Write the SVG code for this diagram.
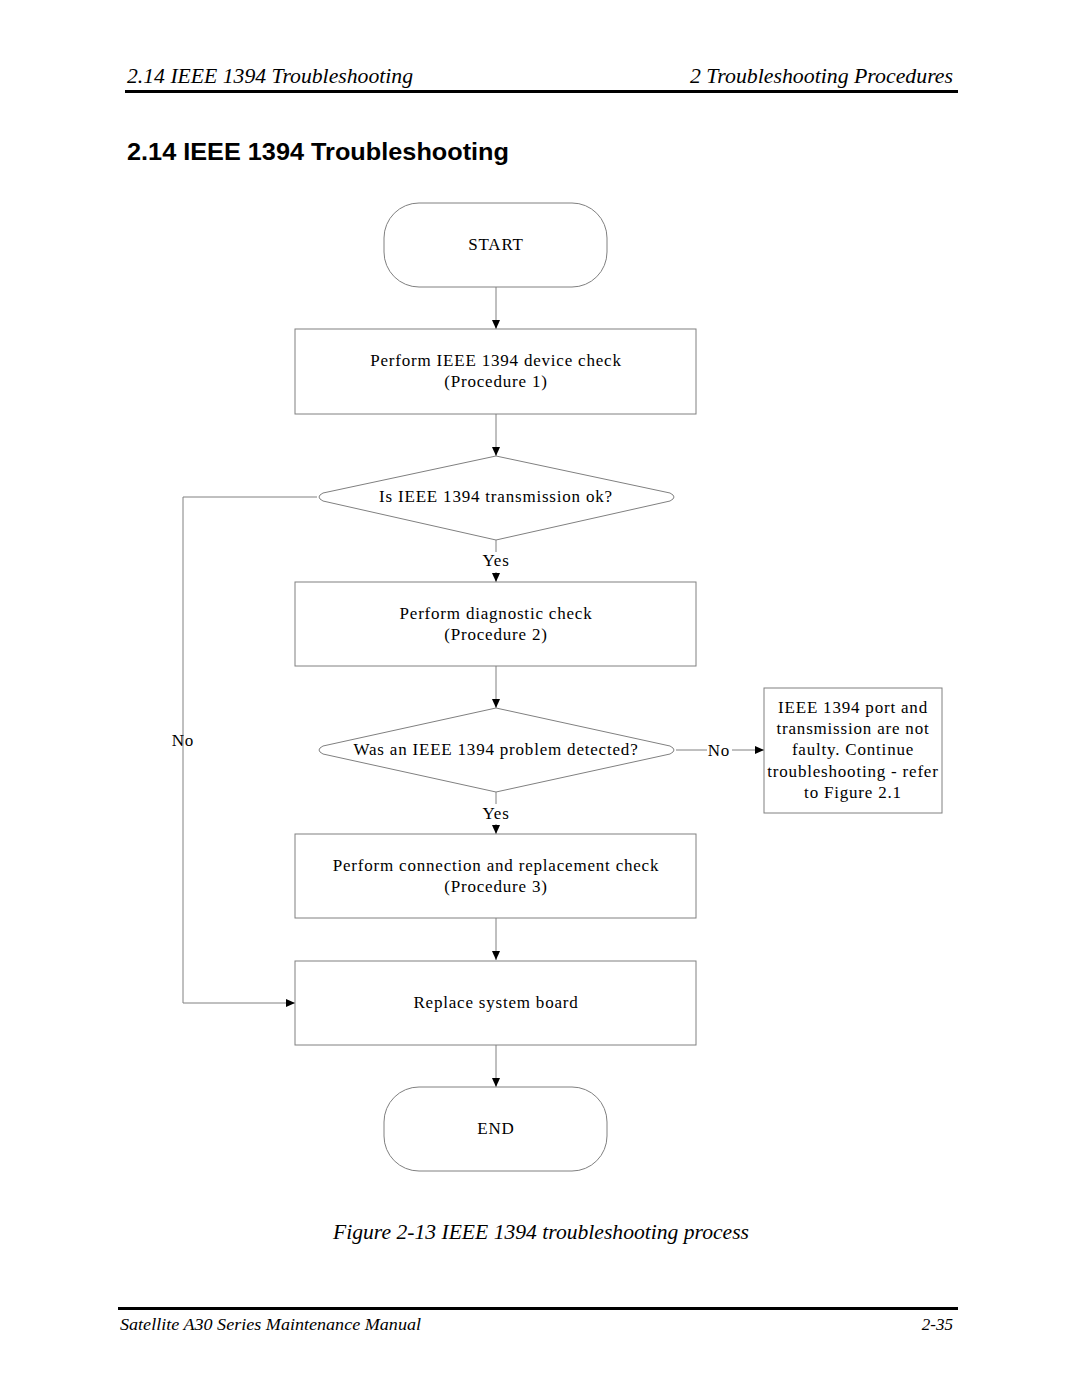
<svg xmlns="http://www.w3.org/2000/svg" width="1080" height="1397" viewBox="0 0 1080 1397">
<style>
.bg{fill:#fff}
.node{fill:#fff;stroke:#808080;stroke-width:1}
.t{font-family:"Liberation Serif",serif;font-size:17px;letter-spacing:0.8px;fill:#000;text-anchor:middle}
.edge{fill:none;stroke:#808080;stroke-width:1}
.hdr{font-family:"Liberation Serif",serif;font-style:italic;font-size:21px;fill:#000}
.title{font-family:"Liberation Sans",Arial,sans-serif;font-weight:bold;font-size:24px;fill:#000}
.cap{font-family:"Liberation Serif",serif;font-style:italic;font-size:21px;fill:#000}
.ftr{font-family:"Liberation Serif",serif;font-style:italic;font-size:17px;fill:#000}
</style>
<defs>
<marker id="arr" markerWidth="10" markerHeight="10" refX="9" refY="4" orient="auto" markerUnits="userSpaceOnUse">
<path d="M0,0 L9,4 L0,8 Z" fill="#000"/>
</marker>
</defs>
<rect class="bg" width="1080" height="1397"/>
<g id="header">
<text class="hdr" x="127" y="83" textLength="286" lengthAdjust="spacingAndGlyphs">2.14  IEEE 1394 Troubleshooting</text>
<text class="hdr" x="690" y="83" textLength="263" lengthAdjust="spacingAndGlyphs">2  Troubleshooting Procedures</text>
<rect x="125" y="90" width="833" height="3" fill="#000"/>
<text class="title" x="127" y="160" textLength="382" lengthAdjust="spacingAndGlyphs">2.14  IEEE 1394 Troubleshooting</text>
</g>
<g id="connectors">
<line class="edge" x1="496" y1="287" x2="496" y2="329" marker-end="url(#arr)"/>
<line class="edge" x1="496" y1="414" x2="496" y2="456" marker-end="url(#arr)"/>
<line class="edge" x1="496" y1="540" x2="496" y2="552"/>
<line class="edge" x1="496" y1="572" x2="496" y2="582" marker-end="url(#arr)"/>
<line class="edge" x1="496" y1="666" x2="496" y2="708" marker-end="url(#arr)"/>
<line class="edge" x1="496" y1="792" x2="496" y2="804"/>
<line class="edge" x1="496" y1="824" x2="496" y2="834" marker-end="url(#arr)"/>
<line class="edge" x1="496" y1="918" x2="496" y2="960" marker-end="url(#arr)"/>
<line class="edge" x1="496" y1="1045" x2="496" y2="1087" marker-end="url(#arr)"/>
<polyline class="edge" points="317,497 183,497 183,1003 295,1003" marker-end="url(#arr)"/>
<line class="edge" x1="676" y1="750" x2="707" y2="750"/>
<line class="edge" x1="732" y1="750" x2="764" y2="750" marker-end="url(#arr)"/>
<text class="t" x="496" y="566">Yes</text>
<text class="t" x="496" y="819">Yes</text>
<text class="t" x="183" y="746">No</text>
<text class="t" x="719" y="756">No</text>
</g>
<g id="start">
<rect class="node" x="384" y="203" width="223" height="84" rx="35" ry="35"/>
<text class="t" x="496" y="250">START</text>
</g>
<g id="proc1">
<rect class="node" x="295" y="329" width="401" height="85"/>
<text class="t" x="496" y="366">Perform IEEE 1394 device check</text>
<text class="t" x="496" y="387">(Procedure 1)</text>
</g>
<g id="dec1">
<path class="node" d="M496,456 L670,493 Q678,497 670,501 L496,540 L323,501 Q315,497 323,493 Z"/>
<text class="t" x="496" y="502">Is IEEE 1394 transmission ok?</text>
</g>
<g id="proc2">
<rect class="node" x="295" y="582" width="401" height="84"/>
<text class="t" x="496" y="619">Perform diagnostic check</text>
<text class="t" x="496" y="640">(Procedure 2)</text>
</g>
<g id="dec2">
<path class="node" d="M496,708 L670,746 Q678,750 670,754 L496,792 L323,754 Q315,750 323,746 Z"/>
<text class="t" x="496" y="755">Was an IEEE 1394 problem detected?</text>
</g>
<g id="note">
<rect class="node" x="764" y="688" width="178" height="125"/>
<text class="t" x="853" y="713">IEEE 1394 port and</text>
<text class="t" x="853" y="734">transmission are not</text>
<text class="t" x="853" y="755">faulty. Continue</text>
<text class="t" x="853" y="777">troubleshooting - refer</text>
<text class="t" x="853" y="798">to Figure 2.1</text>
</g>
<g id="proc3">
<rect class="node" x="295" y="834" width="401" height="84"/>
<text class="t" x="496" y="871">Perform connection and replacement check</text>
<text class="t" x="496" y="892">(Procedure 3)</text>
</g>
<g id="replace">
<rect class="node" x="295" y="961" width="401" height="84"/>
<text class="t" x="496" y="1008">Replace system board</text>
</g>
<g id="end">
<rect class="node" x="384" y="1087" width="223" height="84" rx="35" ry="35"/>
<text class="t" x="496" y="1134">END</text>
</g>
<g id="footer">
<text class="cap" x="333" y="1239" textLength="416" lengthAdjust="spacingAndGlyphs">Figure 2-13  IEEE 1394 troubleshooting process</text>
<rect x="118" y="1307" width="840" height="3" fill="#000"/>
<text class="ftr" x="120" y="1330" textLength="301" lengthAdjust="spacingAndGlyphs">Satellite A30 Series Maintenance Manual</text>
<text class="ftr" x="953" y="1330" text-anchor="end">2-35</text>
</g>
</svg>
